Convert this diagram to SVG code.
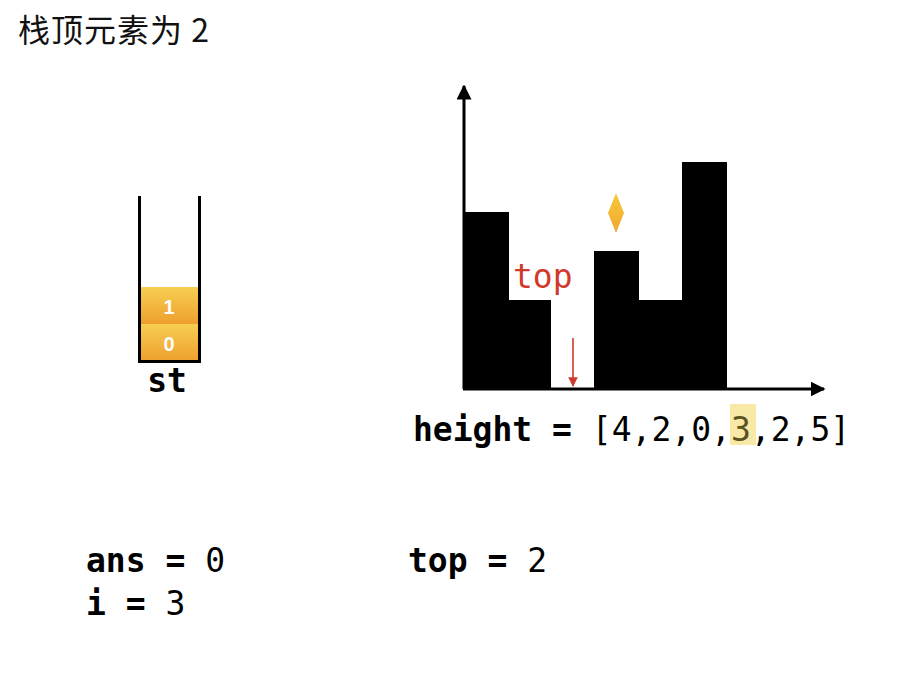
<svg xmlns="http://www.w3.org/2000/svg" width="904" height="682" viewBox="0 0 904 682">
<defs>
<style>
.mono{font-family:"DejaVu Sans Mono","Liberation Mono",monospace;font-size:33px;fill:#000}
.b{font-weight:bold}
.n{font-weight:normal}
.bar{fill:#000}
.axis{stroke:#000;stroke-width:3;fill:none}
.lbl{font-family:"Liberation Sans",sans-serif;font-size:20px;font-weight:bold;fill:#fff}
</style>
<linearGradient id="blk" x1="0" y1="0" x2="0" y2="1">
<stop offset="0" stop-color="#f7cf52"/>
<stop offset="1" stop-color="#ee9f2e"/>
</linearGradient>
<linearGradient id="dia" x1="0" y1="0" x2="0" y2="1">
<stop offset="0" stop-color="#f6c93a"/>
<stop offset="1" stop-color="#f0a832"/>
</linearGradient>
<marker id="ah" viewBox="0 0 10 10" refX="9" refY="5" markerWidth="5" markerHeight="5" orient="auto" markerUnits="strokeWidth">
<path d="M0,0 L10,5 L0,10 z" fill="#000"/>
</marker>
<marker id="rh" viewBox="0 0 10 10" refX="9" refY="5" markerWidth="6" markerHeight="6" orient="auto" markerUnits="strokeWidth">
<path d="M0,0 L10,5 L0,10 z" fill="#d0392b"/>
</marker>
</defs>
<rect width="904" height="682" fill="#fff"/>

<g id="title">
<text x="18" y="42" font-family="'Noto Sans CJK SC','Noto Sans',sans-serif" font-size="32" letter-spacing="1" fill="#111">栈顶元素为 2</text>
</g>

<g id="stack">
<rect x="141" y="287" width="57" height="37" fill="url(#blk)"/>
<rect x="141" y="324" width="57" height="37" fill="url(#blk)"/>
<text x="169" y="314" text-anchor="middle" class="lbl">1</text>
<text x="169" y="351" text-anchor="middle" class="lbl">0</text>
<path d="M139.5,196 V361.5 H199.5 V196" fill="none" stroke="#000" stroke-width="3"/>
<text x="167" y="392" text-anchor="middle" class="mono b" font-size="30">st</text>
</g>

<g id="bars">
<rect class="bar" x="464" y="212" width="45" height="177"/>
<rect class="bar" x="509" y="300" width="42" height="89"/>
<rect class="bar" x="594" y="251" width="45" height="138"/>
<rect class="bar" x="639" y="300" width="43" height="89"/>
<rect class="bar" x="682" y="162" width="45" height="227"/>
</g>

<g id="diamond">
<path d="M616,193 L624,213 L616,233 L608,213 z" fill="url(#dia)"/>
</g>

<g id="top-label">
<text x="513" y="288" font-family="'DejaVu Sans Mono',monospace" font-size="33" fill="#d0392b">top</text>
</g>

<g id="connectors">
<line class="axis" x1="464" y1="389" x2="464" y2="86" marker-end="url(#ah)"/>
<line class="axis" x1="463" y1="389" x2="824" y2="389" marker-end="url(#ah)"/>
<line x1="573" y1="338" x2="573" y2="386" stroke="#d0392b" stroke-width="1.6" marker-end="url(#rh)"/>
</g>

<g id="height-array">
<rect x="730" y="404" width="26" height="41" fill="#f8eaa6"/>
<text x="413" y="441" class="mono"><tspan class="b">height =</tspan><tspan class="n"> [4,2,0,</tspan><tspan fill="#5b5322">3</tspan><tspan>,2,5]</tspan></text>
</g>

<g id="vars">
<text x="86" y="572" class="mono"><tspan class="b">ans =</tspan><tspan> 0</tspan></text>
<text x="86" y="615" class="mono"><tspan class="b">i =</tspan><tspan> 3</tspan></text>
<text x="408" y="572" class="mono"><tspan class="b">top =</tspan><tspan> 2</tspan></text>
</g>
</svg>
